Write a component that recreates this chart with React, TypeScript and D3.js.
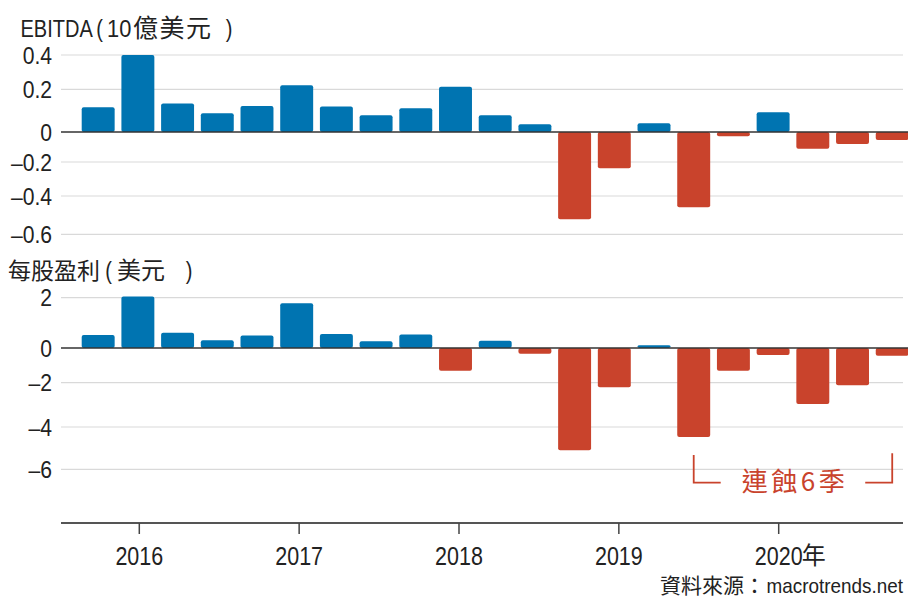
import React from 'react';
import * as d3 from 'd3';

// quarters 2015Q4 .. 2020Q4
const quarters = [
  '2015Q4',
  '2016Q1', '2016Q2', '2016Q3', '2016Q4',
  '2017Q1', '2017Q2', '2017Q3', '2017Q4',
  '2018Q1', '2018Q2', '2018Q3', '2018Q4',
  '2019Q1', '2019Q2', '2019Q3', '2019Q4',
  '2020Q1', '2020Q2', '2020Q3', '2020Q4',
];

// EBITDA, billions USD
const ebitda = [
  0.116, 0.40, 0.133, 0.088, 0.122, 0.223, 0.12, 0.078, 0.111, 0.215,
  0.078, 0.036, -0.522, -0.237, 0.041, -0.459, -0.029, 0.092, -0.111, -0.08, -0.053,
];

// earnings per share, USD
const eps = [
  0.52, 2.05, 0.61, 0.31, 0.5, 1.78, 0.56, 0.27, 0.54, -1.31,
  0.29, -0.33, -5.1, -2.21, 0.11, -4.47, -1.31, -0.4, -2.96, -2.12, -0.44,
];

const ebitdaTicks = [0.4, 0.2, 0, -0.2, -0.4, -0.6];
const epsTicks = [2, 0, -2, -4, -6];
const yearTicks = [2016, 2017, 2018, 2019, 2020];
const yearLabels = ['2016', '2017', '2018', '2019', '2020'];

// gridline rows as laid out in the print graphic (not evenly spaced)
const ebitdaGridY = [55, 89.3, 132, 162, 196, 234.3];
const epsGridY = [297.7, 348, 382.7, 427, 469.3];

const BLUE = '#0074b1';
const RED = '#c9432c';
const GRID = '#d9d9d9';
const TEXT = '#222';
const LATIN = "'Liberation Sans', Arial, sans-serif";
const CJK = "'Noto Sans CJK TC', 'Noto Sans CJK SC', sans-serif";

const fmt = (v: number) => (v < 0 ? '–' : '') + String(Math.abs(v));

const left = 61;
const gridRight = 903;
const lineRight = 908;

// condensed latin text (Arial Narrow look) by squeezing Liberation Sans
function Narrow({ x, y, size, anchor = 'start', sx = 0.87, fill = TEXT, dy, children }: any) {
  return (
    <text
      transform={`translate(${x},${y}) scale(${sx},1)`}
      textAnchor={anchor}
      fontSize={size}
      fontFamily={LATIN}
      fill={fill}
      dy={dy}
    >
      {children}
    </text>
  );
}

function Cjk({ x, y, size, anchor = 'start', fill = TEXT, children, ...rest }: any) {
  return (
    <text x={x} y={y} textAnchor={anchor} fontSize={size} fontFamily={CJK} fill={fill} {...rest}>
      {children}
    </text>
  );
}

export default function App() {
  const x = d3.scaleBand<string>().domain(quarters).range([81.7, 908.7]).paddingInner(0.17).paddingOuter(0);
  const bw = x.bandwidth();
  const xYear = d3.scaleLinear().domain([2016, 2020]).range([139.3, 778.7]);

  const yTop = d3.scaleLinear().domain(ebitdaTicks).range(ebitdaGridY);
  const yBot = d3.scaleLinear().domain(epsTicks).range(epsGridY);

  const panel = (
    values: number[],
    ticks: number[],
    y: d3.ScaleLinear<number, number>,
    key: string
  ) => (
    <g key={key}>
      {ticks.filter(t => t !== 0).map(t => (
        <line key={t} x1={left} x2={gridRight} y1={y(t)} y2={y(t)} stroke={GRID} strokeWidth={1.2} />
      ))}
      {ticks.map(t => (
        <Narrow key={'l' + t} x={52} y={y(t)} dy="0.36em" anchor="end" size={24} sx={0.88}>
          {fmt(t)}
        </Narrow>
      ))}
      {values.map((v, i) => {
        const y0 = y(0);
        const y1 = y(v);
        return (
          <rect
            key={i}
            x={x(quarters[i])}
            width={bw}
            y={Math.min(y0, y1)}
            height={Math.abs(y1 - y0)}
            rx={2}
            fill={v >= 0 ? BLUE : RED}
          />
        );
      })}
      <line x1={left} x2={lineRight} y1={y(0)} y2={y(0)} stroke="#333" strokeWidth={1.5} />
    </g>
  );

  const bx1 = (x(quarters[15]) ?? 0) + bw / 2;
  const bx2 = (x(quarters[20]) ?? 0) + bw / 2;
  const axisY = 523;

  return (
    <svg
      width={908}
      height={600}
      style={{ position: 'absolute', left: 0, top: 0, background: '#fff' }}
    >
      {/* panel titles */}
      <Narrow x={20.5} y={37} size={23}>EBITDA</Narrow>
      <Narrow x={99.5} y={37} size={23} anchor="middle">(</Narrow>
      <Narrow x={107} y={37} size={23} sx={0.95}>10</Narrow>
      <Cjk x={133} y={37} size={25} letterSpacing={1.5}>億美元</Cjk>
      <Narrow x={229} y={37} size={23} anchor="middle">)</Narrow>
      {panel(ebitda, ebitdaTicks, yTop, 'top')}

      <Cjk x={8} y={279} size={23}>每股盈利</Cjk>
      <Narrow x={108.5} y={279} size={23} anchor="middle">(</Narrow>
      <Cjk x={117} y={279} size={24}>美元</Cjk>
      <Narrow x={189} y={279} size={23} anchor="middle">)</Narrow>
      {panel(eps, epsTicks, yBot, 'bot')}

      {/* annotation */}
      <g stroke={RED} strokeWidth={1.8} fill="none">
        <polyline points={`${bx1},455 ${bx1},482.7 ${bx1 + 27},482.7`} />
        <polyline points={`${bx2 - 27},482.7 ${bx2},482.7 ${bx2},453.3`} />
      </g>
      <Cjk x={(bx1 + bx2) / 2 + 2} y={491} anchor="middle" size={26} fill={RED} letterSpacing={3.5}>
        連蝕6季
      </Cjk>

      {/* time axis */}
      <line x1={left} x2={gridRight} y1={axisY} y2={axisY} stroke="#555" strokeWidth={2} />
      {yearTicks.map((yr, i) => (
        <g key={yr}>
          <line x1={xYear(yr)} x2={xYear(yr)} y1={axisY} y2={axisY + 11} stroke="#444" strokeWidth={1.5} />
          <Narrow x={xYear(yr)} y={565} anchor="middle" size={25} sx={0.86}>
            {yearLabels[i]}
          </Narrow>
        </g>
      ))}
      <Cjk x={xYear(2020) + 23} y={564} size={24}>年</Cjk>

      <Cjk x={765} y={593} anchor="end" size={21}>資料來源：</Cjk>
      <Narrow x={gridRight} y={593} anchor="end" size={21} sx={0.9}>
        macrotrends.net
      </Narrow>
    </svg>
  );
}
